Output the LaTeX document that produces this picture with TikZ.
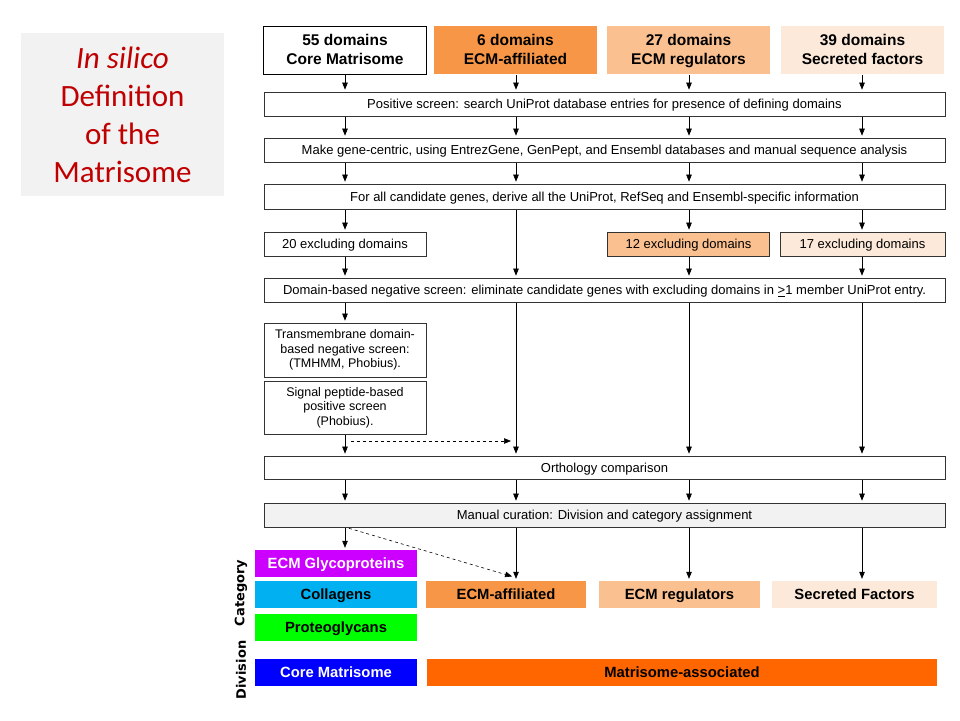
\documentclass[tikz,border=0pt]{standalone}
\usepackage{fontspec}
\setmainfont{Liberation Sans}
\newfontfamily\titlefont{Carlito}
\newfontfamily\sidefont{DejaVu Sans}
\usetikzlibrary{arrows.meta, positioning}
\definecolor{titlered}{RGB}{192,0,0}
\definecolor{panelgray}{RGB}{242,242,242}
\definecolor{ecmorange}{RGB}{247,150,70}
\definecolor{regorange}{RGB}{250,192,144}
\definecolor{secpeach}{RGB}{253,233,217}
\definecolor{glypurple}{RGB}{204,0,255}
\definecolor{colblue}{RGB}{0,176,240}
\definecolor{progreen}{RGB}{0,255,0}
\definecolor{coreblue}{RGB}{0,0,255}
\definecolor{assocorange}{RGB}{255,102,0}

\begin{document}
\begin{tikzpicture}[x=1pt, y=-1pt, >={Triangle[length=7pt,width=5.5pt]},
	topbox/.style={minimum width=163pt, minimum height=48pt, inner sep=0pt, align=center, text depth=1.5pt,
		font=\bfseries\fontsize{15.5}{19}\selectfont},
	frame/.style={draw=black!80, line width=0.7pt, inner sep=0pt, font=\fontsize{13}{15}\selectfont},
	onerow/.style={text height=9.3pt, text depth=0pt},
	stage/.style={frame, onerow, minimum width=681pt, minimum height=24pt},
	smallbox/.style={frame, onerow, minimum width=162pt, minimum height=24pt},
	tallbox/.style={frame, minimum width=162pt, align=center, font=\fontsize{12.5}{14.5}\selectfont},
	catbox/.style={minimum width=162pt, minimum height=27pt, inner sep=0pt, text height=10.6pt, text depth=0pt,
		font=\bfseries\fontsize{14.8}{17}\selectfont},
	sidelabel/.style={rotate=90, font=\sidefont\bfseries\fontsize{13}{15}\selectfont},
	flow/.style={->, line width=0.6pt, shorten <=1pt, shorten >=2pt},
	dashflow/.style={flow, dashed}]
	\useasboundingbox (0,0) rectangle (960,720);

	% title panel
	\node[fill=panelgray, minimum width=203pt, minimum height=163pt, align=center, text=titlered,
		font=\titlefont\fontsize{31}{38}\selectfont] (title) at (122.5,114.5)
		{{\itshape In silico}\\Definition\\of the\\Matrisome};

	% column positions
	\coordinate (c1) at (345,0);
	\coordinate (c2) at (516,0);
	\coordinate (c3) at (689,0);
	\coordinate (c4) at (862,0);

	% domain sets
	\node[topbox, draw=black, line width=0.7pt] (top1) at (345,50) {55 domains\\Core Matrisome};
	\node[topbox, fill=ecmorange] (top2) at (515.5,50) {6 domains\\ECM-affiliated};
	\node[topbox, fill=regorange] (top3) at (688.5,50) {27 domains\\ECM regulators};
	\node[topbox, fill=secpeach] (top4) at (862.5,50) {39 domains\\Secreted factors};

	% screening stages
	\node[stage] (pos) at (604.5,104) {Positive screen: search UniProt database\ entries for presence of defining domains};
	\node[stage] (gene) at (604.5,150) {Make gene-centric, using\ EntrezGene, GenPept, and Ensembl databases and manual sequence analysis};
	\node[stage, minimum height=25pt] (cand) at (604.5,196.5) {For all candidate genes, derive all the UniProt,\ RefSeq and Ensembl-specific information};
	\node[smallbox] (ex1) at (345,244) {20 excluding domains};
	\node[smallbox, fill=regorange] (ex3) at (688.5,244) {12 excluding domains};
	\node[smallbox, fill=secpeach, minimum width=165pt] (ex4) at (862.5,244) {17 excluding domains};
	\node[stage] (neg) at (604.5,290) {Domain-based negative screen: eliminate candidate genes with excluding domains in \underline{>}1 member UniProt entry.};
	\node[tallbox, minimum height=54pt] (tm) at (345,350)
		{Transmembrane domain-\\based negative screen:\\(TMHMM, Phobius).};
	\node[tallbox, minimum height=53pt] (sp) at (345,407.5)
		{Signal peptide-based\\positive screen\\(Phobius).};
	\node[stage, minimum height=23pt] (orth) at (604.5,467.5) {Orthology\ comparison};
	\node[stage, fill=panelgray] (cur) at (604.5,515) {Manual curation: Division and category assignment};

	% categories and divisions
	\node[catbox, fill=glypurple, text=white] (glyco) at (336,563.5) {ECM Glycoproteins};
	\node[catbox, fill=colblue] (coll) at (336,594.5) {Collagens};
	\node[catbox, fill=ecmorange, minimum width=160pt] (affil) at (506,594.5) {ECM-affiliated};
	\node[catbox, fill=regorange, minimum width=161pt] (reg) at (679.5,594.5) {ECM regulators};
	\node[catbox, fill=secpeach, minimum width=165pt] (sec) at (854.5,594.5) {Secreted Factors};
	\node[catbox, fill=progreen] (prot) at (336,627.5) {Proteoglycans};
	\node[catbox, fill=coreblue, text=white] (core) at (336,672.5) {Core Matrisome};
	\node[catbox, fill=assocorange, minimum width=510pt] (assoc) at (682,672.5) {Matrisome-associated};
	\node[sidelabel] (catlab) at (241,593) {Category};
	\node[sidelabel] (divlab) at (241,670) {Division};

	% connectors
	\foreach \i/\c in {1/c1, 2/c2, 3/c3, 4/c4}
		\draw[flow] (top\i.south -| \c) -- (pos.north -| \c);
	\foreach \c in {c1, c2, c3, c4} {
		\draw[flow] (pos.south -| \c) -- (gene.north -| \c);
		\draw[flow] (gene.south -| \c) -- (cand.north -| \c);
		\draw[flow] (orth.south -| \c) -- (cur.north -| \c);
	}
	\draw[flow] (cand.south -| c1) -- (ex1.north -| c1);
	\draw[flow] (cand.south -| c2) -- (neg.north -| c2);
	\draw[flow] (cand.south -| c3) -- (ex3.north -| c3);
	\draw[flow] (cand.south -| c4) -- (ex4.north -| c4);
	\draw[flow] (ex1.south -| c1) -- (neg.north -| c1);
	\draw[flow] (ex3.south -| c3) -- (neg.north -| c3);
	\draw[flow] (ex4.south -| c4) -- (neg.north -| c4);
	\draw[flow] (neg.south -| c1) -- (tm.north -| c1);
	\foreach \c in {c2, c3, c4}
		\draw[flow] (neg.south -| \c) -- (orth.north -| \c);
	\draw[flow] (sp.south -| c1) -- (orth.north -| c1);
	\coordinate (dash1a) at (350,441);
	\coordinate (dash1b) at (513,441);
	\draw[dashflow] (dash1a) -- (dash1b);
	\draw[flow] (cur.south -| c1) -- (glyco.north -| c1);
	\draw[flow] (cur.south -| c2) -- (affil.north -| c2);
	\draw[flow] (cur.south -| c3) -- (reg.north -| c3);
	\draw[flow] (cur.south -| c4) -- (sec.north -| c4);
	\coordinate (dash2a) at (348,528);
	\coordinate (dash2b) at (514,577);
	\draw[dashflow] (dash2a) -- (dash2b);
\end{tikzpicture}
\end{document}
